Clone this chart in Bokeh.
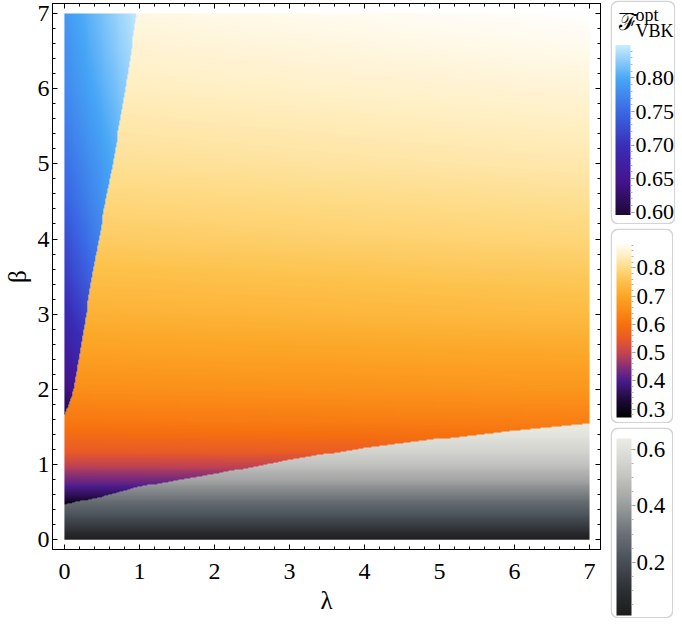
import numpy as np
from bokeh.plotting import figure
from bokeh.models import (LinearColorMapper, ColorBar, LinearAxis, Range1d,
                          SingleIntervalTicker, Label, BoxAnnotation,
                          PrintfTickFormatter, CustomJSTickFormatter)
from bokeh.layouts import row, column
from bokeh.embed import file_html
from bokeh.resources import INLINE

# ---------------- data ----------------
lam_span = [0.0, 7.0]
beta_span = [0.0, 7.0]

# blue (upper-left) region: its right edge (lambda) at given beta, values on lambda=0 and on that edge
blue_edge_beta = [1.65, 2.0, 2.5, 3.0, 3.5, 4.0, 4.5, 5.0, 5.5, 6.0, 6.5, 7.0]
blue_edge_lam = [0.0, 0.13, 0.21, 0.29, 0.37, 0.46, 0.55, 0.645, 0.73, 0.815, 0.89, 0.965]
blue_val_axis = [0.598, 0.635, 0.665, 0.69, 0.71, 0.727, 0.743, 0.755, 0.766, 0.775, 0.781, 0.787]
blue_val_edge = [0.600, 0.650, 0.690, 0.72, 0.748, 0.770, 0.787, 0.800, 0.813, 0.825, 0.836, 0.846]

# grey (bottom) region: its upper edge (beta) at given lambda, values versus beta
gray_edge_lam = [0.0, 0.5, 1.0, 1.5, 2.0, 3.0, 4.0, 5.0, 6.0, 7.0]
gray_edge_beta = [0.46, 0.57, 0.70, 0.79, 0.87, 1.06, 1.22, 1.34, 1.45, 1.54]
gray_beta = [0.0, 0.12, 0.3, 0.53, 0.79, 1.0, 1.2, 1.45, 1.55]
gray_val = [0.02, 0.10, 0.20, 0.30, 0.42, 0.50, 0.56, 0.62, 0.635]

# orange (middle) region: values versus beta at lambda = 0 and lambda = 7
orange_beta = [0.46, 0.6, 0.73, 0.85, 1.0, 1.17, 1.34, 1.54, 2.0, 2.5, 3.0, 4.0, 5.0, 6.0, 7.0]
orange_val_l0 = [0.29, 0.36, 0.41, 0.45, 0.50, 0.55, 0.58, 0.61, 0.655, 0.69, 0.72, 0.77, 0.81, 0.84, 0.865]
orange_val_l7 = [0.30, 0.37, 0.42, 0.46, 0.51, 0.56, 0.595, 0.625, 0.67, 0.705, 0.74, 0.79, 0.83, 0.86, 0.888]

# colour-bar ranges
blue_range = [0.596, 0.849]
orange_range = [0.27, 0.89]
gray_range = [0.01, 0.64]

# ---------------- palettes ----------------
def make_palette(stops, n=256):
    pos = np.array([s[0] for s in stops])
    rgb = np.array([[int(c[1:3], 16), int(c[3:5], 16), int(c[5:7], 16)] for _, c in stops], float)
    t = np.linspace(0, 1, n)
    cols = np.stack([np.interp(t, pos, rgb[:, k]) for k in range(3)], axis=1)
    return ["#%02x%02x%02x" % tuple(int(round(v)) for v in c) for c in cols]

pal_blue = make_palette([(0.0, "#1e0836"), (0.2, "#44148e"), (0.4, "#3a2cb6"),
                         (0.6, "#3a66e4"), (0.8, "#46a6f6"), (1.0, "#c8ecfe")])
pal_orange = make_palette([(0.0, "#000000"), (0.1, "#1e0a3a"), (0.21, "#4c1c8c"),
                           (0.3, "#8e3272"), (0.37, "#c44450"), (0.45, "#e85a28"),
                           (0.53, "#f67010"), (0.62, "#fb8e18"), (0.7, "#fca828"),
                           (0.78, "#fdc24c"), (0.86, "#fedc88"), (0.93, "#ffefc4"),
                           (1.0, "#ffffff")])
pal_gray = make_palette([(0.0, "#1c1c1c"), (0.14, "#2c3034"), (0.30, "#484e56"),
                         (0.46, "#6a7076"), (0.62, "#9a9c9c"), (0.78, "#c2c3c0"),
                         (0.94, "#e2e2dc"), (1.0, "#ecece6")])

TRANSPARENT = (0, 0, 0, 0.0)
m_blue = LinearColorMapper(palette=pal_blue, low=blue_range[0], high=blue_range[1], nan_color=TRANSPARENT)
m_orange = LinearColorMapper(palette=pal_orange, low=orange_range[0], high=orange_range[1], nan_color=TRANSPARENT)
m_gray = LinearColorMapper(palette=pal_gray, low=gray_range[0], high=gray_range[1], nan_color=TRANSPARENT)

# ---------------- field built from the samples above ----------------
N = 560
lc = lam_span[0] + (np.arange(N) + 0.5) * (lam_span[1] - lam_span[0]) / N
bc = beta_span[0] + (np.arange(N) + 0.5) * (beta_span[1] - beta_span[0]) / N
LAM, BET = np.meshgrid(lc, bc)

edge_lam = np.interp(BET, blue_edge_beta, blue_edge_lam)
blue_mask = (BET >= blue_edge_beta[0]) & (LAM <= edge_lam)
gray_top = np.interp(LAM, gray_edge_lam, gray_edge_beta)
gray_mask = BET <= gray_top
orange_mask = ~blue_mask & ~gray_mask

va = np.interp(BET, blue_edge_beta, blue_val_axis)
ve = np.interp(BET, blue_edge_beta, blue_val_edge)
frac = np.clip(LAM / np.maximum(edge_lam, 1e-6), 0, 1)
img_blue = np.where(blue_mask, va + frac * (ve - va), np.nan).astype(np.float32)

v0 = np.interp(BET, orange_beta, orange_val_l0)
v7 = np.interp(BET, orange_beta, orange_val_l7)
img_orange = np.where(orange_mask, v0 + (LAM / 7.0) * (v7 - v0), np.nan).astype(np.float32)

img_gray = np.where(gray_mask, np.interp(BET, gray_beta, gray_val), np.nan).astype(np.float32)

# ---------------- main figure ----------------
SERIF = "Liberation Serif"
p = figure(width=610, height=618, output_backend="svg", toolbar_location=None,
           x_range=Range1d(-0.159, 7.146), y_range=Range1d(-0.130, 7.133),
           min_border_left=48, min_border_right=10, min_border_top=3, min_border_bottom=69)
p.grid.visible = False
p.outline_line_color = "black"
p.background_fill_color = "white"

for img, mp in ((img_gray, m_gray), (img_orange, m_orange), (img_blue, m_blue)):
    p.image(image=[img], x=lam_span[0], y=beta_span[0],
            dw=lam_span[1] - lam_span[0], dh=beta_span[1] - beta_span[0], color_mapper=mp)

def style_axis(ax, labels=True):
    ax.ticker = SingleIntervalTicker(interval=1, num_minor_ticks=5)
    ax.axis_line_color = "black"
    ax.major_tick_line_color = "black"
    ax.minor_tick_line_color = "black"
    ax.major_tick_in = 5
    ax.major_tick_out = 0
    ax.minor_tick_in = 3
    ax.minor_tick_out = 0
    ax.major_label_text_font = SERIF
    ax.major_label_text_font_size = "24px"
    ax.major_label_text_color = "black"
    ax.axis_label_text_font = SERIF
    ax.axis_label_text_font_size = "25px"
    ax.axis_label_text_font_style = "normal"
    ax.axis_label_text_color = "black"
    if not labels:
        ax.formatter = CustomJSTickFormatter(code="return ''")
        ax.major_label_standoff = 0

style_axis(p.xaxis[0])
style_axis(p.yaxis[0])
p.xaxis[0].axis_label = "λ"
p.yaxis[0].axis_label = "β"
p.xaxis[0].major_label_standoff = 14
p.xaxis[0].axis_label_standoff = 5
p.yaxis[0].major_label_standoff = 3
p.yaxis[0].axis_label_standoff = 4

ax_top = LinearAxis()
style_axis(ax_top, labels=False)
p.add_layout(ax_top, "above")
ax_right = LinearAxis()
style_axis(ax_right, labels=False)
p.add_layout(ax_right, "right")

# ---------------- colour bars ----------------
def cb_figure(w, h, mapper, bar_x, bar_bottom, bar_len, interval, fmt, font_size):
    f = figure(width=w, height=h, output_backend="svg", toolbar_location=None,
               x_range=Range1d(0, w), y_range=Range1d(0, h),
               x_axis_location=None, y_axis_location=None, min_border=0)
    f.grid.visible = False
    f.outline_line_color = None
    f.add_layout(BoxAnnotation(left=0.75, right=w - 0.75, bottom=0.75, top=h - 0.75,
                               border_radius=7, fill_color=None, fill_alpha=0,
                               line_color="#707070", line_width=1.5))
    cb = ColorBar(color_mapper=mapper, location=(bar_x, bar_bottom), width=15, height=bar_len,
                  padding=0, margin=0, orientation="vertical",
                  ticker=SingleIntervalTicker(interval=interval, num_minor_ticks=5 if interval < 0.2 else 4),
                  formatter=PrintfTickFormatter(format=fmt),
                  major_tick_in=0, major_tick_out=4, minor_tick_in=0, minor_tick_out=2,
                  major_tick_line_color="#9a9a9a", minor_tick_line_color="#b0b0b0",
                  bar_line_color=None, border_line_color=None, background_fill_color=None,
                  label_standoff=1,
                  major_label_text_font=SERIF, major_label_text_font_size=font_size,
                  major_label_text_color="black")
    f.add_layout(cb, "center")
    return f

cb1 = cb_figure(65, 224, m_blue, 5, 9.5, 170, 0.05, "%.2f", "22px")
cb1.add_layout(Label(x=8, y=190, text="ℱ", text_font=SERIF, text_font_size="23px",
                     text_color="black"))
cb1.add_layout(BoxAnnotation(left=9, right=23, bottom=210.5, top=211.5, fill_color="black",
                             fill_alpha=1, line_color=None))
cb1.add_layout(Label(x=25, y=200, text="opt", text_font=SERIF, text_font_size="18px", text_color="black"))
cb1.add_layout(Label(x=25, y=184, text="VBK", text_font=SERIF, text_font_size="18px", text_color="black"))

cb2 = cb_figure(63, 195, m_orange, 6, 6, 175, 0.1, "%.1f", "23px")
cb3 = cb_figure(63, 191, m_gray, 6, 3, 177, 0.2, "%.1f", "23px")

layout = row(p, column(cb1, cb2, cb3, spacing=4))
open("out.html", "w").write(file_html(layout, INLINE))
